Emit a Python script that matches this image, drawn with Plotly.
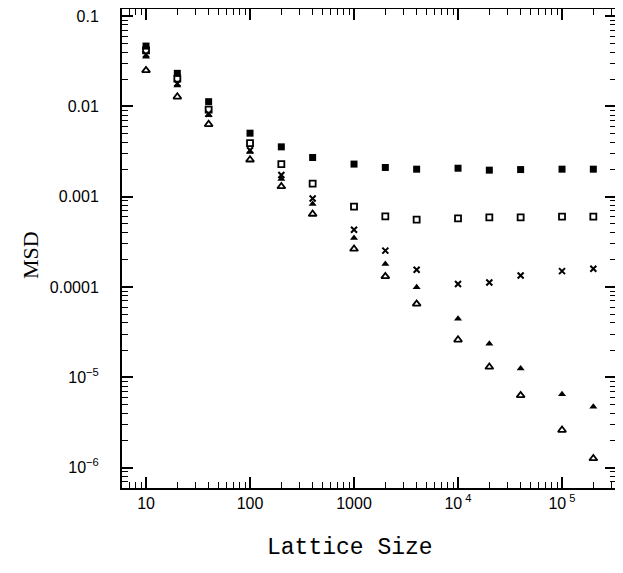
import plotly.graph_objects as go

lattice_size = [10, 20, 40, 100, 200, 400, 1000, 2000, 4000, 10000, 20000, 40000, 100000, 200000]

msd_filled_square = [0.0467, 0.0233, 0.0113, 0.00506, 0.00357, 0.00272, 0.0023, 0.00211, 0.00202,
                     0.00207, 0.00197, 0.0020, 0.00202, 0.00202]
msd_open_square = [0.0418, 0.0203, 0.00923, 0.00392, 0.0023, 0.0014, 0.000776, 0.000607, 0.000557,
                   0.000577, 0.00059, 0.00059, 0.000601, 0.000601]
msd_cross = [0.0377, 0.018, 0.0083, 0.00328, 0.00174, 0.000958, 0.000431, 0.000253, 0.000155,
             0.000108, 0.000112, 0.000134, 0.000150, 0.000159]
msd_filled_triangle = [0.0355, 0.0171, 0.0080, 0.00314, 0.00157, 0.00083, 0.00035, 0.00018, 9.96e-5,
                       4.45e-5, 2.35e-5, 1.25e-5, 6.5e-6, 4.7e-6]
msd_open_triangle = [0.0251, 0.0128, 0.00635, 0.00257, 0.0013, 0.000644, 0.000264, 0.000131, 6.5e-5,
                     2.6e-5, 1.3e-5, 6.3e-6, 2.6e-6, 1.26e-6]

x_tick_vals = [10, 100, 1000, 10000, 100000]
x_tick_text = ["10", "100", "1000", "10<sup> 4</sup>", "10<sup> 5</sup>"]
y_tick_vals = [0.1, 0.01, 0.001, 0.0001, 1e-5, 1e-6]
y_tick_text = ["0.1", "0.01", "0.001", "0.0001", "10<sup>−5</sup>", "10<sup>−6</sup>"]

x_minor = [m * 10 ** e for e in range(0, 6) for m in range(2, 10)]
y_minor = [m * 10.0 ** e for e in range(-7, 0) for m in range(2, 10)]

series = [
    (msd_filled_square, "square", 7, 0),
    (msd_open_square, "square-open", 6, 1.8),
    (msd_cross, "x-thin-open", 6, 2),
    (msd_filled_triangle, "triangle-up", 7, 0),
    (msd_open_triangle, "triangle-up-open", 7, 1.8),
]

fig = go.Figure()
for ys, sym, size, lw in series:
    fig.add_trace(go.Scatter(
        x=lattice_size, y=ys, mode="markers",
        marker=dict(symbol=sym, size=size, color="black",
                    line=dict(color="black", width=lw)),
        showlegend=False,
    ))

tick_font = dict(family="Liberation Sans, Arial, sans-serif", size=16, color="black")
axis_common = dict(
    type="log", showgrid=False, zeroline=False, automargin=False,
    showline=True, linecolor="black", linewidth=2, mirror="ticks",
    ticks="inside", ticklen=11, tickwidth=1.5, tickcolor="black",
    tickmode="array", tickfont=tick_font, ticklabeloverflow="allow",
)

fig.update_xaxes(
    **axis_common,
    range=[0.769, 5.519],
    tickvals=x_tick_vals, ticktext=x_tick_text,
    ticklabelstandoff=0,
    minor=dict(ticks="inside", ticklen=6, tickwidth=1.2, tickcolor="black",
               tickmode="array", tickvals=x_minor, showgrid=False),
)
fig.update_yaxes(
    **axis_common,
    range=[-6.227, -0.92],
    tickvals=y_tick_vals, ticktext=y_tick_text,
    ticklabelstandoff=18,
    minor=dict(ticks="inside", ticklen=6, tickwidth=1.2, tickcolor="black",
               tickmode="array", tickvals=y_minor, showgrid=False),
)

fig.add_annotation(
    text="Lattice Size", xref="paper", yref="paper",
    x=(350 - 122) / (616 - 122), y=-(548 - 488) / (488 - 9),
    showarrow=False, xanchor="center", yanchor="middle",
    font=dict(family="Liberation Mono, Courier New, monospace", size=23, color="black"),
)
fig.add_annotation(
    text="MSD", xref="paper", yref="paper",
    x=-(122 - 30) / (616 - 122), y=(488 - 255) / (488 - 9),
    showarrow=False, xanchor="center", yanchor="middle", textangle=-90,
    font=dict(family="Liberation Serif, Times New Roman, serif", size=22, color="black"),
)

fig.update_layout(
    width=623, height=573,
    margin=dict(l=114, r=15, t=1, b=93),
    paper_bgcolor="white", plot_bgcolor="white",
)

fig.write_html("out.html")
